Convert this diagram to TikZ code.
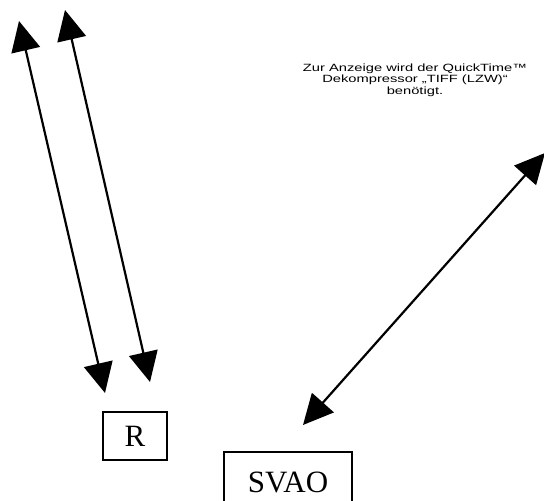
\documentclass[tikz,border=0pt]{standalone}
\usepackage{fontspec}
\setmainfont{Liberation Serif}
\newfontfamily\qtfont{Liberation Sans}
\usetikzlibrary{arrows.meta}
\tikzset{
  dbl/.style={line width=2.2pt, {Triangle[length=30pt,width=29pt]}-{Triangle[length=30pt,width=29pt]}},
  lbox/.style={draw, line width=2pt, inner sep=0pt, font=\fontsize{31}{34}\selectfont},
  qt/.style={font=\qtfont\fontsize{10.5}{11.3}\selectfont, align=center, xscale=1.4}
}
\begin{document}
\begin{tikzpicture}[x=1pt,y=1pt]
\useasboundingbox (0,0) rectangle (544,501);
\fill[white] (0,0) rectangle (544,501);
\clip (0,0) rectangle (544,501);
% boxes
\node[lbox, minimum width=64pt, minimum height=48pt] (R) at (135,65) {R};
\node[lbox, minimum width=128pt, minimum height=60pt] (SVAO) at (288,19) {SVAO};
% placeholder text
\node[qt] (qt) at (415,421) {Zur Anzeige wird der QuickTime™\\Dekompressor „TIFF (LZW)“\\benötigt.};
% arrow end points
\coordinate (a1t) at (19,480);
\coordinate (a1b) at (105,108);
\coordinate (a2t) at (65,491);
\coordinate (a2b) at (150,119);
\coordinate (a3t) at (545,348);
\coordinate (a3b) at (303,76);
\draw[dbl] (a1t) -- (a1b);
\draw[dbl] (a2t) -- (a2b);
\draw[dbl] (a3t) -- (a3b);
\end{tikzpicture}
\end{document}
